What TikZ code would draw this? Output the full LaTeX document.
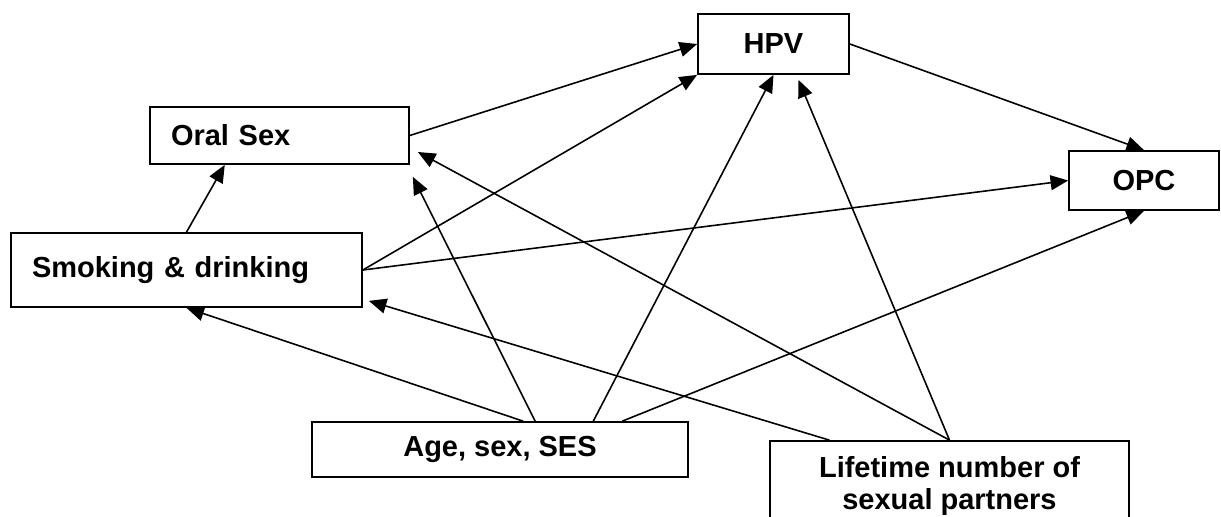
\documentclass[tikz,border=0pt]{standalone}
\usepackage{fontspec}
\setmainfont{Liberation Sans}
\usetikzlibrary{arrows.meta,calc}

\begin{document}
\begin{tikzpicture}[x=0.02cm, y=-0.02cm,
        box/.style={draw, line width=1pt, inner sep=0pt, font=\bfseries\fontsize{16.5}{18.1}\selectfont},
        leftbox/.style={box, inner xsep=0.42cm, align=left},
        arr/.style={-{Triangle[length=10pt,width=8.5pt]}, line width=0.9pt}]
        \useasboundingbox (0,0) rectangle (1221,517);
        \node [leftbox, text width=4.34cm, minimum height=1.14cm] (oral) at (279.5,135.5) {Oral Sex};
        \node [leftbox, text width=6.18cm, minimum height=1.48cm] (smoke) at (186.5,270) {Smoking \& drinking};
        \node [box, minimum width=3.02cm, minimum height=1.2cm] (hpv) at (773.5,44) {HPV};
        \node [box, minimum width=3cm, minimum height=1.18cm] (opc) at (1144,180.5) {OPC};
        \node [box, minimum width=7.52cm, minimum height=1.1cm] (age) at (500,449.5) {Age, sex, SES};
        \node [box, minimum width=7.18cm, minimum height=1.8cm, align=center] (life) at (949.5,486) {Lifetime number of\\sexual partners};
        \draw [arr] (oral.east) -- (hpv.west);
        \draw [arr] (smoke.north) -- ($(oral.south west)!0.29!(oral.south east)$);
        \draw [arr] (smoke.east) -- (hpv.south west);
        \draw [arr] (smoke.east) -- (opc.west);
        \draw [arr] (hpv.east) -- (opc.north);
        \draw [arr] ($(age.north west)!0.561!(age.north east)$) -- (smoke.south);
        \draw [arr] ($(age.north west)!0.593!(age.north east)$) -- ([xshift=0.06cm, yshift=-0.24cm]oral.south east);
        \draw [arr] ($(age.north west)!0.747!(age.north east)$) -- (hpv.south);
        \draw [arr] ($(age.north west)!0.824!(age.north east)$) -- (opc.south);
        \draw [arr] ($(life.north west)!0.167!(life.north east)$) -- ([xshift=0.12cm, yshift=0.14cm]smoke.south east);
        \draw [arr] (life.north) -- ([xshift=0.16cm, yshift=-0.33cm]oral.east);
        \draw [arr] (life.north) -- ([xshift=0.5cm, yshift=-0.1cm]hpv.south);
    \end{tikzpicture}
\end{document}
